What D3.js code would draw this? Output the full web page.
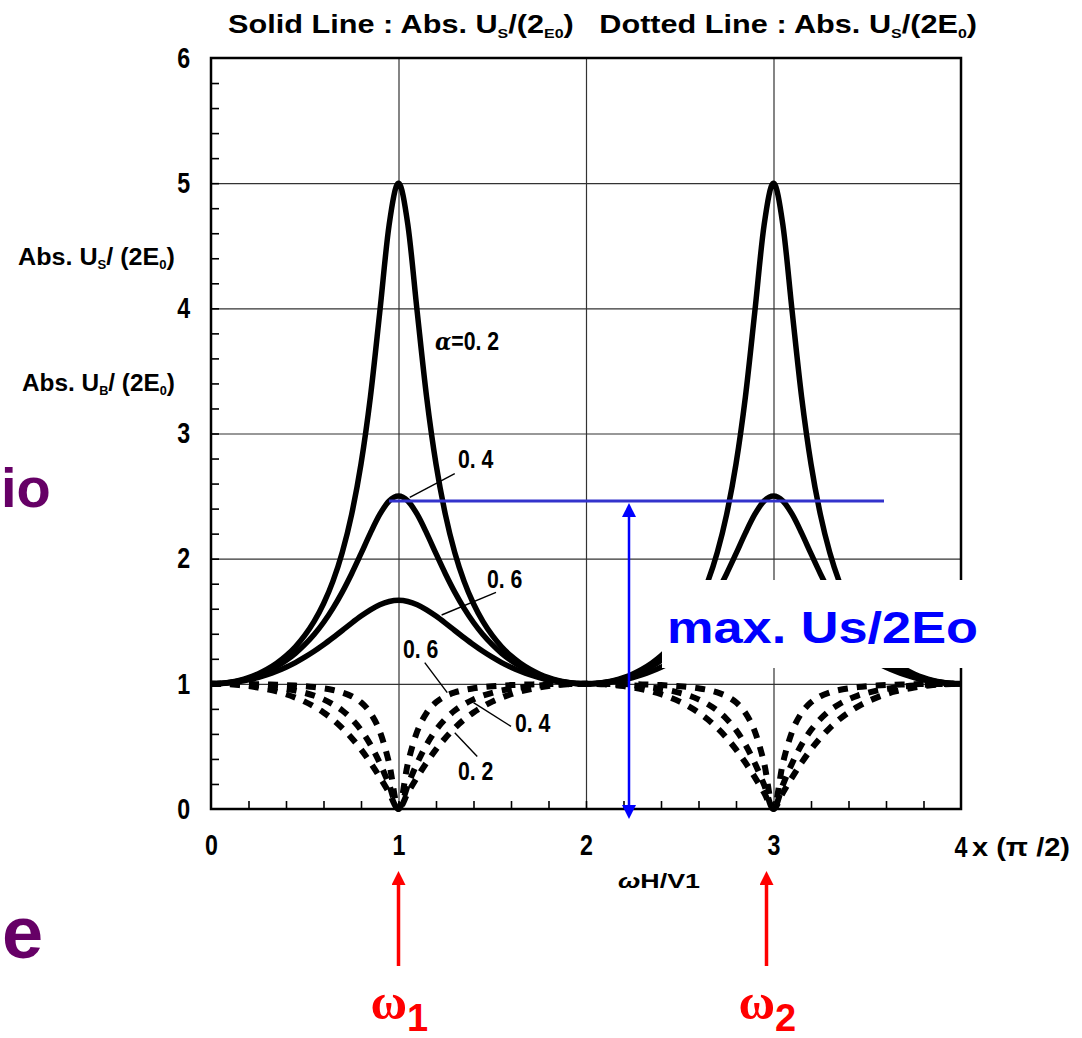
<!DOCTYPE html>
<html>
<head>
<meta charset="utf-8">
<script src="https://cdn.jsdelivr.net/npm/d3@7/dist/d3.min.js"></script>
<style>
  body { margin: 0; background: #fff; }
  svg { font-family: "Liberation Sans", Arial, sans-serif; }
</style>
</head>
<body>
<div id="chart"></div>
<script>
// ωH/V1 sample points, in units of π/2 (0 .. 4, step 0.05)
const omegaH = d3.range(0, 81).map(i => +(i * 0.05).toFixed(2));

// solid lines : Abs.Us/(2E0) for alpha = 0.2, 0.4, 0.6
const us02 = [
  1.000,1.003,1.012,1.027,1.049,1.079,1.117,1.164,1.223,1.296,1.387,1.499,1.640,1.819,2.050,2.353,2.756,3.291,3.969,4.667,5.000,
  4.667,3.969,3.291,2.756,2.353,2.050,1.819,1.640,1.499,1.387,1.296,1.223,1.164,1.117,1.079,1.049,1.027,1.012,1.003,1.000,
  1.003,1.012,1.027,1.049,1.079,1.117,1.164,1.223,1.296,1.387,1.499,1.640,1.819,2.050,2.353,2.756,3.291,3.969,4.667,5.000,
  4.667,3.969,3.291,2.756,2.353,2.050,1.819,1.640,1.499,1.387,1.296,1.223,1.164,1.117,1.079,1.049,1.027,1.012,1.003,1.000
];
const us04 = [
  1.000,1.003,1.010,1.024,1.043,1.068,1.100,1.139,1.187,1.244,1.313,1.394,1.490,1.603,1.733,1.880,2.040,2.204,2.353,2.461,2.500,
  2.461,2.353,2.204,2.040,1.880,1.733,1.603,1.490,1.394,1.313,1.244,1.187,1.139,1.100,1.068,1.043,1.024,1.010,1.003,1.000,
  1.003,1.010,1.024,1.043,1.068,1.100,1.139,1.187,1.244,1.313,1.394,1.490,1.603,1.733,1.880,2.040,2.204,2.353,2.461,2.500,
  2.461,2.353,2.204,2.040,1.880,1.733,1.603,1.490,1.394,1.313,1.244,1.187,1.139,1.100,1.068,1.043,1.024,1.010,1.003,1.000
];
const us06 = [
  1.000,1.002,1.008,1.018,1.032,1.050,1.073,1.101,1.133,1.170,1.213,1.260,1.312,1.368,1.426,1.485,1.541,1.591,1.632,1.658,1.667,
  1.658,1.632,1.591,1.541,1.485,1.426,1.368,1.312,1.260,1.213,1.170,1.133,1.101,1.073,1.050,1.032,1.018,1.008,1.002,1.000,
  1.002,1.008,1.018,1.032,1.050,1.073,1.101,1.133,1.170,1.213,1.260,1.312,1.368,1.426,1.485,1.541,1.591,1.632,1.658,1.667,
  1.658,1.632,1.591,1.541,1.485,1.426,1.368,1.312,1.260,1.213,1.170,1.133,1.101,1.073,1.050,1.032,1.018,1.008,1.002,1.000
];

// dotted lines : Abs.UB/(2E0) for alpha = 0.2, 0.4, 0.6
const ub02 = [
  1.000,1.000,0.999,0.999,0.998,0.997,0.995,0.993,0.990,0.986,0.981,0.974,0.964,0.951,0.931,0.901,0.852,0.768,0.621,0.366,0.000,
  0.366,0.621,0.768,0.852,0.901,0.931,0.951,0.964,0.974,0.981,0.986,0.990,0.993,0.995,0.997,0.998,0.999,0.999,1.000,1.000,
  1.000,0.999,0.999,0.998,0.997,0.995,0.993,0.990,0.986,0.981,0.974,0.964,0.951,0.931,0.901,0.852,0.768,0.621,0.366,0.000,
  0.366,0.621,0.768,0.852,0.901,0.931,0.951,0.964,0.974,0.981,0.986,0.990,0.993,0.995,0.997,0.998,0.999,0.999,1.000,1.000
];
const ub04 = [
  1.000,1.000,0.998,0.995,0.992,0.987,0.980,0.971,0.960,0.946,0.928,0.906,0.876,0.837,0.787,0.719,0.631,0.515,0.368,0.193,0.000,
  0.193,0.368,0.515,0.631,0.719,0.787,0.837,0.876,0.906,0.928,0.946,0.960,0.971,0.980,0.987,0.992,0.995,0.998,1.000,1.000,
  1.000,0.998,0.995,0.992,0.987,0.980,0.971,0.960,0.946,0.928,0.906,0.876,0.837,0.787,0.719,0.631,0.515,0.368,0.193,0.000,
  0.193,0.368,0.515,0.631,0.719,0.787,0.837,0.876,0.906,0.928,0.946,0.960,0.971,0.980,0.987,0.992,0.995,0.998,1.000,1.000
];
const ub06 = [
  1.000,0.999,0.996,0.990,0.982,0.970,0.956,0.939,0.917,0.890,0.858,0.818,0.771,0.715,0.647,0.568,0.476,0.371,0.255,0.130,0.000,
  0.130,0.255,0.371,0.476,0.568,0.647,0.715,0.771,0.818,0.858,0.890,0.917,0.939,0.956,0.970,0.982,0.990,0.996,0.999,1.000,
  0.999,0.996,0.990,0.982,0.970,0.956,0.939,0.917,0.890,0.858,0.818,0.771,0.715,0.647,0.568,0.476,0.371,0.255,0.130,0.000,
  0.130,0.255,0.371,0.476,0.568,0.647,0.715,0.771,0.818,0.858,0.890,0.917,0.939,0.956,0.970,0.982,0.990,0.996,0.999,1.000
];

const xTicks = [0, 1, 2, 3];
const yTicks = [0, 1, 2, 3, 4, 5, 6];
const resonance = [1, 3];          // ω1, ω2
const maxUs = 2.46;                // level of max. Us/2Eo line

const width = 1082, height = 1038;
const svg = d3.select("#chart").append("svg")
    .attr("width", width)
    .attr("height", height);

const x = d3.scaleLinear().domain([0, 4]).range([211, 961]);
const y = d3.scaleLinear().domain([0, 6]).range([809, 58]);

// arrow heads
const defs = svg.append("defs");
[["redHead", "#ff0000"], ["blueHead", "#0000ff"]].forEach(([id, c]) => {
  defs.append("marker")
      .attr("id", id)
      .attr("viewBox", "0 0 10 10")
      .attr("refX", 0).attr("refY", 5)
      .attr("markerWidth", 15).attr("markerHeight", 14)
      .attr("markerUnits", "userSpaceOnUse")
      .attr("orient", "auto-start-reverse")
    .append("path")
      .attr("d", "M0,0 L10,5 L0,10 Z")
      .attr("fill", c);
});

// helper for the narrow bold labels
function narrow(g, px, py, txt, size, sx, anchor) {
  return g.append("text")
      .attr("transform", `translate(${px},${py}) scale(${sx},1)`)
      .attr("text-anchor", anchor || "start")
      .attr("font-size", size)
      .attr("font-weight", "bold")
      .text(txt);
}

// grid lines
const gridX = svg.append("g")
    .attr("transform", `translate(0,${y(0)})`)
    .call(d3.axisBottom(x).tickValues([1, 2, 3]).tickSize(-(y(0) - y(6))).tickFormat(""));
const gridY = svg.append("g")
    .attr("transform", `translate(${x(0)},0)`)
    .call(d3.axisLeft(y).tickValues([1, 2, 3, 4, 5]).tickSize(-(x(4) - x(0))).tickFormat(""));
[gridX, gridY].forEach(g => {
  g.select(".domain").remove();
  g.selectAll("line").attr("stroke", "#333").attr("stroke-width", 1.2);
});

// minor ticks pointing into the plot
const minorX = svg.append("g")
    .attr("transform", `translate(0,${y(0)})`)
    .call(d3.axisBottom(x).tickValues(d3.range(1, 20).map(i => i * 0.2)).tickSize(-8).tickFormat(""));
const minorY = svg.append("g")
    .attr("transform", `translate(${x(0)},0)`)
    .call(d3.axisLeft(y).tickValues(d3.range(1, 30).map(i => i * 0.2)).tickSize(-8).tickFormat(""));
[minorX, minorY].forEach(g => {
  g.select(".domain").remove();
  g.selectAll("line").attr("stroke", "#000").attr("stroke-width", 1.6);
});

// frame
svg.append("rect")
    .attr("x", x(0)).attr("y", y(6))
    .attr("width", x(4) - x(0)).attr("height", y(0) - y(6))
    .attr("fill", "none").attr("stroke", "#000").attr("stroke-width", 2.5);

// tick labels
const xLab = svg.append("g")
    .attr("transform", `translate(0,${y(0)})`)
    .call(d3.axisBottom(x).tickValues(xTicks).tickSize(0).tickPadding(25).tickFormat(d3.format("d")));
const yLab = svg.append("g")
    .attr("transform", `translate(${x(0)},0)`)
    .call(d3.axisLeft(y).tickValues(yTicks).tickSize(0).tickPadding(26).tickFormat(d3.format("d")));
[xLab, yLab].forEach(g => {
  g.select(".domain").remove();
  g.selectAll("text")
      .attr("font-family", "'Liberation Sans', Arial, sans-serif")
      .attr("font-size", 29).attr("font-weight", "bold").attr("fill", "#000")
      .attr("transform", "scale(0.8,1)");
});
narrow(svg, x(4), 857, "4", 29, 0.8, "middle");
svg.append("text")
    .attr("x", 972).attr("y", 856)
    .attr("textLength", 98).attr("lengthAdjust", "spacingAndGlyphs")
    .attr("font-size", 25).attr("font-weight", "bold")
    .attr("xml:space", "preserve")
    .text("x (π /2)");

// curves
const line = d3.line()
    .x((d, i) => x(omegaH[i]))
    .y(d => y(d))
    .curve(d3.curveMonotoneX);

const curves = svg.append("g").attr("fill", "none").attr("stroke", "#000");
[us02, us04, us06].forEach(s => {
  curves.append("path").datum(s).attr("d", line)
      .attr("stroke-width", 5.5).attr("stroke-linejoin", "round");
});
[ub02, ub04, ub06].forEach(s => {
  curves.append("path").datum(s).attr("d", line)
      .attr("stroke-width", 6).attr("stroke-dasharray", "10,9");
});

// curve labels with leaders
const ann = svg.append("g");
const leaders = [
  [x(1.30), y(2.68), x(1.06), y(2.49)],
  [x(1.52), y(1.73), x(1.23), y(1.55)],
  [x(1.14), y(1.17), x(1.26), y(0.93)],
  [x(1.60), y(0.66), x(1.40), y(0.85)],
  [x(1.42), y(0.42), x(1.30), y(0.61)]
];
leaders.forEach(([a, b, c, d]) => {
  ann.append("line").attr("x1", a).attr("y1", b).attr("x2", c).attr("y2", d)
      .attr("stroke", "#000").attr("stroke-width", 1.4);
});
const alphaLab = ann.append("text")
    .attr("transform", `translate(435,350) scale(0.85,1)`)
    .attr("font-size", 25).attr("font-weight", "bold");
alphaLab.append("tspan").attr("font-style", "italic").attr("font-family", "'DejaVu Serif', serif").text("α");
alphaLab.append("tspan").text("=0. 2");
narrow(ann, 458, 468, "0. 4", 25, 0.85);
narrow(ann, 487, 588, "0. 6", 25, 0.85);
narrow(ann, 403, 658, "0. 6", 25, 0.85);
narrow(ann, 515, 732, "0. 4", 25, 0.85);
narrow(ann, 458, 780, "0. 2", 25, 0.85);

// title
const gap = "\u00a0\u00a0\u00a0";
const title = svg.append("text")
    .attr("x", 228).attr("y", 33)
    .attr("textLength", 749).attr("lengthAdjust", "spacingAndGlyphs")
    .attr("font-size", 25).attr("font-weight", "bold");
title.append("tspan").text("Solid Line : Abs. U");
title.append("tspan").attr("font-size", 13).attr("dy", 5).text("S");
title.append("tspan").attr("dy", -5).text("/(2");
title.append("tspan").attr("font-size", 13).attr("dy", 5).text("E0");
title.append("tspan").attr("dy", -5).text(")" + gap + "Dotted Line : Abs. U");
title.append("tspan").attr("font-size", 13).attr("dy", 5).text("S");
title.append("tspan").attr("dy", -5).text("/(2E");
title.append("tspan").attr("font-size", 13).attr("dy", 5).text("0");
title.append("tspan").attr("dy", -5).text(")");

// y-axis titles
function yTitle(px, py, len, sub) {
  const t = svg.append("text")
      .attr("x", px).attr("y", py)
      .attr("textLength", len).attr("lengthAdjust", "spacingAndGlyphs")
      .attr("font-size", 23).attr("font-weight", "bold");
  t.append("tspan").text("Abs. U");
  t.append("tspan").attr("font-size", 12).attr("dy", 4).text(sub);
  t.append("tspan").attr("dy", -4).text("/ (2E");
  t.append("tspan").attr("font-size", 12).attr("dy", 4).text("0");
  t.append("tspan").attr("dy", -4).text(")");
}
yTitle(18, 265, 157, "S");
yTitle(22, 391, 153, "B");

// x-axis title
const xt = svg.append("text")
    .attr("x", 618).attr("y", 888)
    .attr("textLength", 82).attr("lengthAdjust", "spacingAndGlyphs")
    .attr("font-size", 21).attr("font-weight", "bold");
xt.append("tspan").attr("font-style", "italic").text("ω");
xt.append("tspan").text("H/V1");

// white box with the blue note
svg.append("rect")
    .attr("x", 662).attr("y", 580).attr("width", 330).attr("height", 88)
    .attr("fill", "#fff");
svg.append("text")
    .attr("x", 667).attr("y", 643)
    .attr("textLength", 311).attr("lengthAdjust", "spacingAndGlyphs")
    .attr("font-size", 44).attr("font-weight", "bold").attr("fill", "#0000ff")
    .text("max. Us/2Eo");

// blue level line and double arrow
svg.append("line")
    .attr("x1", 389).attr("x2", 884)
    .attr("y1", y(maxUs)).attr("y2", y(maxUs))
    .attr("stroke", "#3333cc").attr("stroke-width", 3);
svg.append("line")
    .attr("x1", 629).attr("x2", 629)
    .attr("y1", y(maxUs) + 16).attr("y2", 805)
    .attr("stroke", "#0000ff").attr("stroke-width", 2.5)
    .attr("marker-start", "url(#blueHead)")
    .attr("marker-end", "url(#blueHead)");

// red arrows for the resonance frequencies
const reds = svg.append("g");
resonance.forEach((r, i) => {
  const cx = i === 0 ? x(r) : x(r) - 7;
  reds.append("line")
      .attr("x1", cx).attr("x2", cx)
      .attr("y1", 966).attr("y2", 885)
      .attr("stroke", "#ff0000").attr("stroke-width", 3.5)
      .attr("marker-end", "url(#redHead)");
  const w = reds.append("text")
      .attr("x", cx - 28).attr("y", 1019)
      .attr("font-size", 50).attr("font-weight", "bold").attr("fill", "#ff0000")
      .attr("font-family", "'Liberation Serif', 'Times New Roman', serif");
  w.append("tspan").text("ω");
  w.append("tspan").attr("font-family", "'Liberation Sans', Arial, sans-serif")
      .attr("font-size", 38).attr("dy", 12).text(String(i + 1));
});

// cut-off slide text on the left
svg.append("text")
    .attr("x", 1).attr("y", 507)
    .attr("font-size", 56).attr("font-weight", "bold").attr("fill", "#660066")
    .text("io");
svg.append("text")
    .attr("x", 2).attr("y", 958)
    .attr("font-size", 74).attr("font-weight", "bold").attr("fill", "#660066")
    .text("e");
</script>
</body>
</html>
